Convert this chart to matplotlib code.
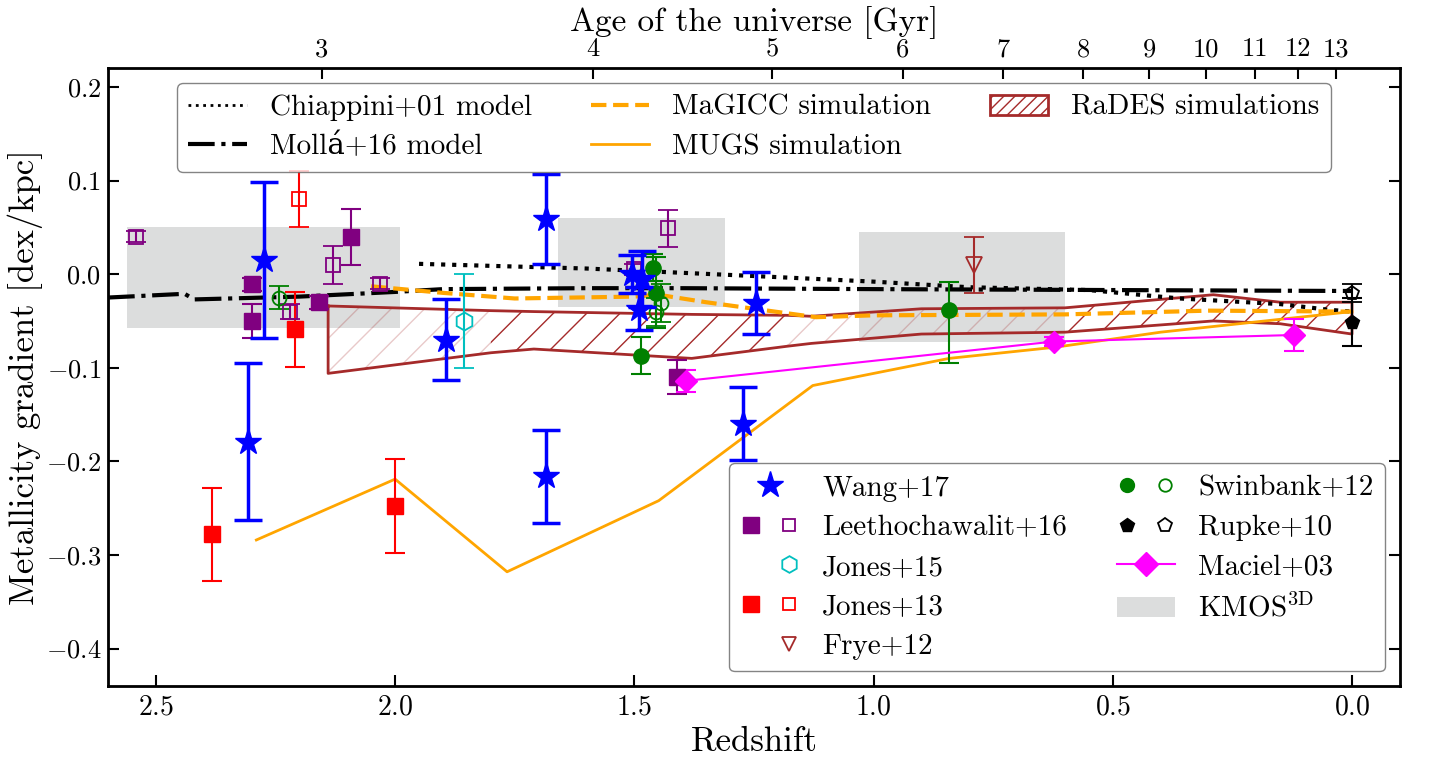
import numpy as np
import matplotlib.pyplot as plt
from matplotlib.lines import Line2D
from matplotlib.patches import Patch
from matplotlib.legend_handler import HandlerTuple

plt.rcParams['font.family'] = ['cmr10', 'DejaVu Serif']
plt.rcParams['mathtext.fontset'] = 'cm'
plt.rcParams['axes.formatter.use_mathtext'] = True
plt.rcParams['axes.unicode_minus'] = True

# ---- observations ----
wang_z = [2.274, 2.308, 1.894, 1.685, 1.685, 1.505, 1.485, 1.49, 1.246, 1.273]
wang_val = [0.015, -0.179, -0.070, 0.059, -0.216, 0.0, -0.005, -0.037, -0.031, -0.160]
wang_err = [0.083, 0.084, 0.043, 0.048, 0.050, 0.020, 0.030, 0.023, 0.033, 0.039]

leeth_z = [2.299, 2.299, 2.159, 2.092, 1.411]
leeth_val = [-0.011, -0.050, -0.030, 0.040, -0.110]
leeth_err = [0.007, 0.018, 0.007, 0.030, 0.018]
leeth_open_z = [2.542, 2.130, 2.220, 2.032, 1.430, 1.500]
leeth_open_val = [0.040, 0.010, -0.040, -0.010, 0.049, 0.005]
leeth_open_err = [0.006, 0.020, 0.008, 0.006, 0.020, 0.006]

jones15_z = [1.855]
jones15_val = [-0.050]
jones15_err = [0.050]

jones13_z = [2.209, 2.383, 2.0]
jones13_val = [-0.059, -0.278, -0.248]
jones13_err = [0.040, 0.050, 0.050]
jones13_open_z = [2.20]
jones13_open_val = [0.080]
jones13_open_err = [0.030]

frye_z = [0.79]
frye_val = [0.010]
frye_err = [0.030]

swin_z = [1.461, 1.455, 1.486, 0.842]
swin_val = [0.007, -0.020, -0.087, -0.038]
swin_err_lo = [0.014, 0.038, 0.020, 0.057]
swin_err_hi = [0.014, 0.038, 0.020, 0.030]
swin_open_z = [2.243, 1.444, 1.455]
swin_open_val = [-0.025, -0.031, -0.040]
swin_open_err = [0.012, 0.020, 0.015]

rupke_z = [0.0]
rupke_val = [-0.051]
rupke_err = [0.026]
rupke_open_z = [0.0]
rupke_open_val = [-0.020]
rupke_open_err = [0.010]

maciel_z = [1.392, 0.623, 0.121]
maciel_val = [-0.114, -0.072, -0.065]
maciel_err = [0.012, 0.005, 0.017]

# KMOS3D boxes
kmos_z_lo = [1.99, 1.31, 0.60]
kmos_z_hi = [2.56, 1.66, 1.03]
kmos_lo = [-0.058, -0.035, -0.073]
kmos_hi = [0.050, 0.060, 0.045]

# ---- models / simulations ----
chiap_z = [1.95, 1.60, 1.25, 1.00, 0.80, 0.55, 0.36, 0.15, 0.05, 0.0]
chiap_val = [0.011, 0.006, -0.002, -0.008, -0.014, -0.017, -0.026, -0.032, -0.038, -0.040]

molla_z = [2.60, 2.44, 2.42, 2.20, 2.00, 1.90, 1.60, 1.40, 1.00, 0.50, 0.0]
molla_val = [-0.025, -0.021, -0.027, -0.024, -0.019, -0.016, -0.015, -0.015, -0.016, -0.017, -0.018]

magicc_z = [2.05, 1.90, 1.75, 1.50, 1.45, 1.35, 1.25, 1.12, 1.00, 0.60, 0.30, 0.0]
magicc_val = [-0.013, -0.020, -0.026, -0.024, -0.022, -0.030, -0.037, -0.046, -0.044, -0.043, -0.039, -0.040]

mugs_z = [2.29, 2.00, 1.766, 1.449, 1.127, 0.842, 0.619, 0.40, 0.0]
mugs_val = [-0.284, -0.219, -0.318, -0.242, -0.119, -0.090, -0.078, -0.062, -0.040]

rades_z = np.array([2.14, 1.80, 1.71, 1.38, 1.18, 1.13, 0.90, 0.60, 0.29, 0.15, 0.0])
rades_top = np.array([-0.034, -0.039, -0.040, -0.043, -0.044, -0.045, -0.037, -0.036, -0.022, -0.030, -0.030])
rades_bot = np.array([-0.106, -0.084, -0.080, -0.090, -0.077, -0.074, -0.064, -0.062, -0.050, -0.053, -0.064])

age_ticks = [3, 4, 5, 6, 7, 8, 9, 10, 11, 12, 13]

# flat LCDM, H0=70, Om=0.3
Om, OL = 0.3, 0.7
tH = 977.8 / 70.0


def z_at_age(t):
    t = np.asarray(t, dtype=float)
    return (np.sqrt(Om / OL) * np.sinh(1.5 * np.sqrt(OL) * t / tH)) ** (-2.0 / 3.0) - 1


fig = plt.figure(figsize=(14.29, 7.58), dpi=100)
ax = fig.add_axes([0.0756, 0.095, 0.904, 0.815])

for z0, z1, lo, hi in zip(kmos_z_lo, kmos_z_hi, kmos_lo, kmos_hi):
    ax.fill_between([z0, z1], lo, hi, color='#dcdddd', lw=0, zorder=0)

# RaDES hatched band (part of it drawn faded)
faded = (rades_z >= 1.80) | ((rades_z <= 1.18) & (rades_z >= 0.60))
dark = ((rades_z <= 1.80) & (rades_z >= 1.18)) | (rades_z <= 0.60)
ax.fill_between(rades_z, rades_bot, rades_top, where=dark, facecolor='none',
                edgecolor='brown', hatch='/', linewidth=0, zorder=1)
ax.fill_between(rades_z, rades_bot, rades_top, where=faded, facecolor='none',
                edgecolor=(0.65, 0.16, 0.16, 0.25), hatch='/', linewidth=0, zorder=1)
ax.plot(np.r_[rades_z, rades_z[::-1], rades_z[:1]],
        np.r_[rades_top, rades_bot[::-1], rades_top[:1]], color='brown', lw=2, zorder=2)

ax.plot(chiap_z, chiap_val, ':', color='black', lw=3, zorder=2)
ax.plot(molla_z, molla_val, '-.', color='black', lw=3, zorder=2)
ax.plot(magicc_z, magicc_val, '--', color='orange', lw=3, zorder=2)
ax.plot(mugs_z, mugs_val, '-', color='orange', lw=2, zorder=2)

eb = dict(linestyle='none', elinewidth=1.5, capsize=7, capthick=1.5, zorder=3)
ax.errorbar(leeth_z, leeth_val, yerr=leeth_err, marker='s', ms=11, color='purple', **eb)
ax.errorbar(leeth_open_z, leeth_open_val, yerr=leeth_open_err, marker='s', ms=10,
            mfc='none', mew=1.3, color='purple', **eb)
ax.errorbar(jones15_z, jones15_val, yerr=jones15_err, marker='h', ms=13,
            mfc='none', mew=1.3, color='c', **eb)
ax.errorbar(jones13_z, jones13_val, yerr=jones13_err, marker='s', ms=12, color='red', **eb)
ax.errorbar(jones13_open_z, jones13_open_val, yerr=jones13_open_err, marker='s', ms=10,
            mfc='none', mew=1.3, color='red', **eb)
ax.errorbar(frye_z, frye_val, yerr=frye_err, marker='v', ms=11,
            mfc='none', mew=1.3, color='brown', **eb)
ax.errorbar(swin_z, swin_val, yerr=[swin_err_lo, swin_err_hi], marker='o', ms=11,
            color='green', **eb)
ax.errorbar(swin_open_z, swin_open_val, yerr=swin_open_err, marker='o', ms=10,
            mfc='none', mew=1.3, color='green', **eb)
ax.errorbar(rupke_z, rupke_val, yerr=rupke_err, marker='p', ms=10, color='black', **eb)
ax.errorbar(rupke_open_z, rupke_open_val, yerr=rupke_open_err, marker='p', ms=10,
            mfc='none', mew=1.3, color='black', **eb)
ax.errorbar(maciel_z, maciel_val, yerr=maciel_err, marker='D', ms=11, color='magenta',
            lw=1.5, elinewidth=1.5, capsize=7, capthick=1.5, zorder=3)
ax.errorbar(wang_z, wang_val, yerr=wang_err, fmt='*', ms=20, color='blue',
            elinewidth=2.5, capsize=10, capthick=2.5, zorder=4)

ax.set_xlim(2.6, -0.1)
ax.set_ylim(-0.44, 0.22)
ax.set_xticks([2.5, 2.0, 1.5, 1.0, 0.5, 0.0])
ax.set_yticks([-0.4, -0.3, -0.2, -0.1, 0.0, 0.1, 0.2])
ax.tick_params(direction='in', length=8, width=1.5, labelsize=20, right=True, top=False, pad=6)
ax.tick_params(axis='y', labelsize=19, pad=5)
for s in ax.spines.values():
    s.set_linewidth(2)
ax.set_xlabel('Redshift', fontsize=25, labelpad=4)
ax.set_ylabel('Metallicity gradient [dex/kpc]', fontsize=25, labelpad=2)

ax2 = ax.twiny()
ax2.set_xlim(ax.get_xlim())
ax2.set_xticks(z_at_age(age_ticks))
ax2.set_xticklabels([str(a) for a in age_ticks])
ax2.tick_params(direction='in', length=8, width=1.5, labelsize=19, pad=5)
ax2.set_xlabel('Age of the universe [Gyr]', fontsize=24, labelpad=5)

# legends
model_handles = [
    Line2D([], [], ls=':', color='black', lw=2),
    Line2D([], [], ls='-.', color='black', lw=3),
    Line2D([], [], ls='--', color='orange', lw=3),
    Line2D([], [], ls='-', color='orange', lw=2),
    Patch(facecolor='none', edgecolor='brown', hatch='///', lw=2),
]
model_labels = ['Chiappini+01 model', 'Mollá+16 model', 'MaGICC simulation',
                'MUGS simulation', 'RaDES simulations']
leg1 = ax.legend(model_handles, model_labels, loc='upper center', ncol=3, fontsize=21,
                 handlelength=2.0, columnspacing=2.0, labelspacing=0.45,
                 edgecolor='0.4', borderaxespad=0.5)
ax.add_artist(leg1)

blank = Line2D([], [], ls='none')
data_handles = [
    Line2D([], [], ls='none', marker='*', ms=20, color='blue'),
    (Line2D([], [], ls='none', marker='s', ms=11, color='purple'),
     Line2D([], [], ls='none', marker='s', ms=9, mfc='none', mew=1.3, color='purple')),
    (blank, Line2D([], [], ls='none', marker='h', ms=12, mfc='none', mew=1.3, color='c')),
    (Line2D([], [], ls='none', marker='s', ms=11, color='red'),
     Line2D([], [], ls='none', marker='s', ms=9, mfc='none', mew=1.3, color='red')),
    (blank, Line2D([], [], ls='none', marker='v', ms=10, mfc='none', mew=1.3, color='brown')),
    (Line2D([], [], ls='none', marker='o', ms=10, color='green'),
     Line2D([], [], ls='none', marker='o', ms=9, mfc='none', mew=1.3, color='green')),
    (Line2D([], [], ls='none', marker='p', ms=10, color='black'),
     Line2D([], [], ls='none', marker='p', ms=10, mfc='none', mew=1.3, color='black')),
    Line2D([], [], ls='-', lw=1.5, marker='D', ms=12, color='magenta'),
    Patch(facecolor='#dcdddd', edgecolor='none'),
]
data_labels = ['Wang+17', 'Leethochawalit+16', 'Jones+15', 'Jones+13', 'Frye+12',
               'Swinbank+12', 'Rupke+10', 'Maciel+03', r'KMOS$^{\rm 3D}$']
ax.legend(data_handles, data_labels, loc='lower right', ncol=2, fontsize=21,
          handlelength=2.0, labelspacing=0.45, columnspacing=1.7, edgecolor='0.4',
          borderaxespad=0.5, handler_map={tuple: HandlerTuple(ndivide=None, pad=0.6)})

fig.savefig('out.png', dpi=100)
